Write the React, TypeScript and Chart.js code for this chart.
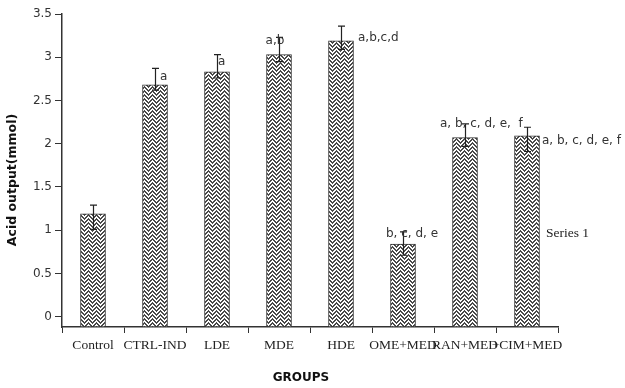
import React, { useEffect, useRef } from "react";
import { Chart, registerables } from "chart.js";

Chart.register(...registerables);

const categories = ["Control", "CTRL-IND", "LDE", "MDE", "HDE", "OME+MED", "RAN+MED", "+CIM+MED"];
const acidOutput = [1.19, 2.68, 2.83, 3.03, 3.19, 0.84, 2.07, 2.09];
const errHigh = [1.29, 2.87, 3.03, 3.23, 3.36, 0.98, 2.23, 2.19];
const errLow = [1.01, 2.62, 2.76, 2.95, 3.09, 0.71, 1.97, 1.91];
const significance = ["", "a", "a", "a,b", "a,b,c,d", "b, c, d, e", "a, b, c, d, e,  f", "a, b, c, d, e, f"];
const yTickValues = [0, 0.5, 1, 1.5, 2, 2.5, 3, 3.5];
const seriesName = "Series 1";
const xTitle = "GROUPS";
const yTitle = "Acid output(mmol)";

// label placement styles (pixels relative to bar centre / upper whisker)
const annoStyle = [
  { dx: 0, dy: 0, align: "left" },
  { dx: 5, dy: 8, align: "left" },
  { dx: 1, dy: 7, align: "left" },
  { dx: -4, dy: 4, align: "center" },
  { dx: 17, dy: 11.5, align: "left" },
  { dx: -17, dy: 2, align: "left" },
  { dx: -25, dy: 0, align: "left" },
  { dx: 15, dy: 14, align: "left" },
];

function makePattern(): CanvasPattern | string {
  const c = document.createElement("canvas");
  c.width = 8;
  c.height = 8;
  const g = c.getContext("2d");
  if (!g) return "#777";
  g.fillStyle = "#4a4a4a";
  g.fillRect(0, 0, 8, 8);
  g.fillStyle = "#ffffff";
  for (let x = 0; x < 8; x++) {
    const tri = Math.abs((x % 8) - 4);
    for (let y = 0; y < 8; y++) {
      if ((y + tri) % 4 < 2) g.fillRect(x, y, 1, 1);
    }
  }
  const p = g.createPattern(c, "repeat");
  return p || "#777";
}

const extrasPlugin = {
  id: "extras",
  afterDatasetsDraw(chart: any) {
    const ctx = chart.ctx;
    const meta = chart.getDatasetMeta(0);
    const ys = chart.scales.y;
    ctx.save();
    ctx.strokeStyle = "#222";
    ctx.lineWidth = 1.2;
    meta.data.forEach((bar: any, i: number) => {
      const x = Math.round(bar.x) + 0.5;
      const yh = ys.getPixelForValue(errHigh[i]);
      const yl = ys.getPixelForValue(errLow[i]);
      ctx.beginPath();
      ctx.moveTo(x, yh);
      ctx.lineTo(x, yl);
      ctx.moveTo(x - 3.5, yh);
      ctx.lineTo(x + 3.5, yh);
      ctx.moveTo(x - 3.5, yl);
      ctx.lineTo(x + 3.5, yl);
      ctx.stroke();
    });
    ctx.fillStyle = "#333";
    ctx.font = "12px 'DejaVu Sans'";
    ctx.textBaseline = "middle";
    meta.data.forEach((bar: any, i: number) => {
      const txt = significance[i];
      if (!txt) return;
      const st = annoStyle[i];
      ctx.textAlign = st.align;
      ctx.fillText(txt, bar.x + st.dx, ys.getPixelForValue(errHigh[i]) + st.dy);
    });
    ctx.restore();
  },
  afterDraw(chart: any) {
    const ctx = chart.ctx;
    const area = chart.chartArea;
    ctx.save();
    ctx.fillStyle = "#222";
    ctx.textBaseline = "middle";
    ctx.font = "13.5px 'Liberation Serif'";
    ctx.textAlign = "left";
    ctx.fillText(chart.data.datasets[0].label, area.right - 12, area.top + 219);
    ctx.fillStyle = "#111";
    ctx.font = "bold 12px 'DejaVu Sans'";
    ctx.textAlign = "center";
    ctx.fillText(xTitle, 301, 378);
    ctx.translate(13, 180);
    ctx.rotate(-Math.PI / 2);
    ctx.font = "bold 12.5px 'DejaVu Sans'";
    ctx.fillText(yTitle, 0, 0);
    ctx.restore();
  },
};

export default function App() {
  const ref = useRef<HTMLCanvasElement | null>(null);
  useEffect(() => {
    document.body.style.margin = "0";
    const canvas = ref.current;
    if (!canvas) return;
    const pattern = makePattern();
    const chart = new Chart(canvas, {
      type: "bar",
      data: {
        labels: categories,
        datasets: [
          {
            label: seriesName,
            data: acidOutput,
            base: -0.12,
            backgroundColor: pattern as any,
            borderColor: "#333",
            borderWidth: 1,
            borderSkipped: false,
            barThickness: 25,
          } as any,
        ],
      },
      options: {
        responsive: false,
        animation: false,
        devicePixelRatio: 1,
        layout: { padding: { top: 14, right: 67, bottom: 0, left: 0 } },
        plugins: { legend: { display: false }, tooltip: { enabled: false } },
        scales: {
          x: {
            type: "category",
            offset: true,
            grid: {
              offset: true,
              drawOnChartArea: false,
              drawTicks: true,
              tickLength: 6,
              color: "#333",
            },
            border: { display: true, color: "#333", width: 1.5 },
            ticks: {
              autoSkip: false,
              maxRotation: 0,
              minRotation: 0,
              padding: 4,
              color: "#222",
              font: { family: "'Liberation Serif'", size: 13.5 },
            },
            afterFit: (s: any) => {
              s.height = 61;
            },
          },
          y: {
            type: "linear",
            min: -0.12,
            max: 3.5,
            grid: {
              drawOnChartArea: false,
              drawTicks: true,
              tickLength: 7,
              color: "#333",
            },
            border: { display: true, color: "#333", width: 1.5 },
            ticks: {
              padding: 3,
              color: "#333",
              font: { family: "'DejaVu Sans'", size: 12 },
              callback: (v: any) => String(v),
            },
            afterBuildTicks: (s: any) => {
              s.ticks = yTickValues.map((v) => ({ value: v }));
            },
            afterFit: (s: any) => {
              s.width = 62;
            },
          },
        },
      },
      plugins: [extrasPlugin],
    });
    return () => chart.destroy();
  }, []);
  return <canvas ref={ref} width={625} height={388} />;
}
